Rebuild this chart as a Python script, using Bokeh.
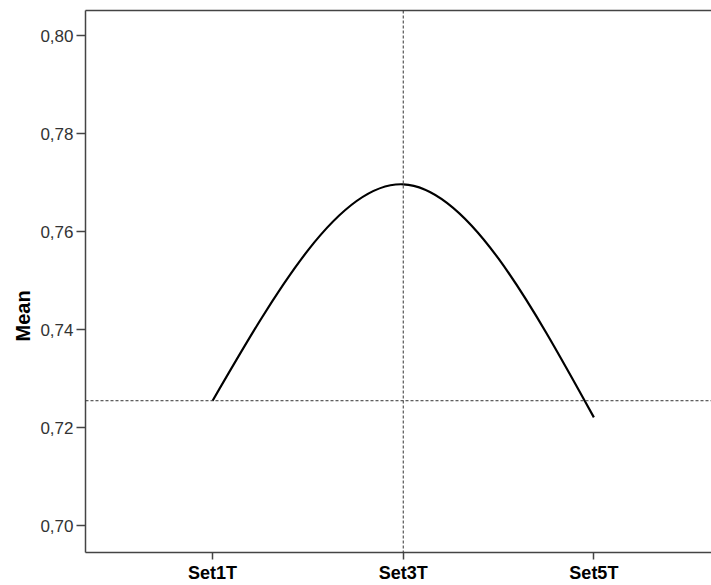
from bokeh.plotting import figure
from bokeh.models import (ColumnDataSource, Span, FixedTicker, LinearAxis,
                          CustomJSTickFormatter, Range1d, Title)
from bokeh.embed import file_html
from bokeh.resources import INLINE

# ---- data ----
categories = ["Set1T", "Set3T", "Set5T"]
positions = [1, 2, 3]
means = [0.7255, 0.7697, 0.7221]
ref_mean = 0.7255          # horizontal dashed reference line
ref_category = 2           # vertical dashed reference line (Set3T)
y_ticks = [0.70, 0.72, 0.74, 0.76, 0.78, 0.80]
y_title = "Mean"

# ---- natural cubic spline through the means, expressed as cubic Bezier segments ----
y0, y1, y2 = means
M1 = 1.5 * (y0 - 2 * y1 + y2)
d = [(y1 - y0) - M1 / 6, (y1 - y0) + M1 / 3, (y2 - y1) + M1 / 6]
seg = dict(x0=[], y0=[], x1=[], y1=[], cx0=[], cy0=[], cx1=[], cy1=[])
for i in range(2):
    xa, xb = positions[i], positions[i + 1]
    ya, yb = means[i], means[i + 1]
    h = xb - xa
    seg["x0"].append(xa); seg["y0"].append(ya)
    seg["x1"].append(xb); seg["y1"].append(yb)
    seg["cx0"].append(xa + h / 3); seg["cy0"].append(ya + d[i] * h / 3)
    seg["cx1"].append(xb - h / 3); seg["cy1"].append(yb - d[i + 1] * h / 3)
src = ColumnDataSource(seg)

FONT = "Liberation Sans"
AX = "#444444"

p = figure(width=711, height=585, output_backend="svg", toolbar_location=None,
           x_range=Range1d(0.3333, 3.617), y_range=Range1d(0.6945, 0.8052),
           min_border_left=85, min_border_right=0, min_border_top=10,
           min_border_bottom=32)
p.outline_line_color = None
p.xgrid.visible = False
p.ygrid.visible = False
p.background_fill_color = "white"
p.border_fill_color = "white"

# reference lines
p.add_layout(Span(location=ref_mean, dimension="width", line_color="#333333",
                  line_width=1, line_dash="3 2"))
p.add_layout(Span(location=ref_category, dimension="height", line_color="#333333",
                  line_width=1, line_dash="3 2"))

p.bezier(x0="x0", y0="y0", x1="x1", y1="y1", cx0="cx0", cy0="cy0",
         cx1="cx1", cy1="cy1", source=src, line_color="black", line_width=2.2)

# x axis
xa = p.xaxis[0]
xa.ticker = FixedTicker(ticks=positions)
xa.major_label_overrides = {pos: c for pos, c in zip(positions, categories)}
xa.minor_tick_line_color = None
xa.major_tick_out = 7
xa.major_tick_in = 0
xa.axis_line_color = AX
xa.axis_line_width = 1.5
xa.major_tick_line_color = AX
xa.major_tick_line_width = 1.5
xa.major_label_text_font = FONT
xa.major_label_text_font_style = "bold"
xa.major_label_text_font_size = "18px"
xa.major_label_text_color = "black"
xa.major_label_standoff = 3

# y axis
ya = p.yaxis[0]
ya.ticker = FixedTicker(ticks=y_ticks)
ya.formatter = CustomJSTickFormatter(code="return tick.toFixed(2).replace('.', ',');")
ya.minor_tick_line_color = None
ya.major_tick_out = 9
ya.major_tick_in = 0
ya.axis_line_color = AX
ya.axis_line_width = 1.5
ya.major_tick_line_color = AX
ya.major_tick_line_width = 1.5
ya.major_label_text_font = FONT
ya.major_label_text_font_size = "17px"
ya.major_label_text_color = "#333333"
ya.major_label_standoff = 3

# y axis title as a left-side title, placed lower like in the reference
p.add_layout(Title(text=y_title, align="left", offset=211, standoff=8,
                   text_font=FONT, text_font_style="bold", text_font_size="20px",
                   text_color="black"), "left")

# top frame line
top = LinearAxis(ticker=FixedTicker(ticks=[]), axis_line_color=AX, axis_line_width=1.5,
                 major_tick_out=0, major_tick_in=0, minor_tick_out=0, minor_tick_in=0,
                 major_label_text_font_size="0px")
p.add_layout(top, "above")

open("out.html", "w").write(file_html(p, INLINE))
